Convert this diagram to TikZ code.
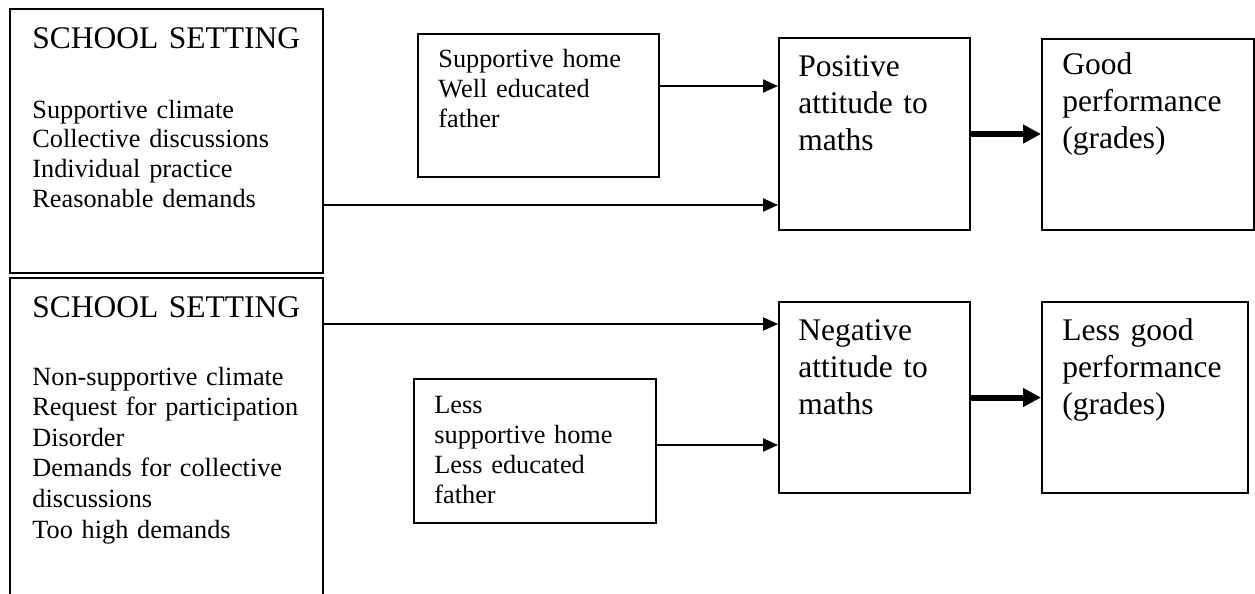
\documentclass[tikz,border=0pt]{standalone}
\usepackage{fontspec}
\setmainfont{Liberation Serif}
\usetikzlibrary{arrows.meta,positioning}

\begin{document}
\begin{tikzpicture}[x=0.5pt,y=-0.5pt,
    box/.style={draw, line width=1pt, inner sep=0pt, anchor=north west},
    small/.style={font=\fontsize{13.15pt}{15pt}\selectfont, text width=140pt, align=left, inner sep=0pt, anchor=base west},
    big/.style={font=\fontsize{15.75pt}{18.5pt}\selectfont, text width=150pt, align=left, inner sep=0pt, anchor=base west},
    link/.style={line width=1pt, -{Triangle[length=7.5pt,width=6.5pt]}},
    strong/.style={line width=3pt, -{Triangle[length=9pt,width=9pt]}}]
        \useasboundingbox (0,0) rectangle (1255,594);
        \clip (0,0) rectangle (1255,594);

        % school settings
        \draw node[box, minimum width=156.5pt, minimum height=132pt] (s1) at (9,8) {};
        \draw node[big] (s1-head) at (32,48) {SCHOOL SETTING};
        \draw node[small] (s1-body) at (32,118) {Supportive climate\\Collective discussions\\Individual practice\\Reasonable demands};
        \draw node[box, minimum width=156.5pt, minimum height=171.5pt] (s2) at (9,277) {};
        \draw node[big] (s2-head) at (32,317) {SCHOOL SETTING};
        \draw node[small, font=\fontsize{13.15pt}{15.3pt}\selectfont] (s2-body) at (32,385) {Non-supportive climate\\Request for participation\\Disorder\\Demands for collective\\discussions\\Too high demands};

        % home
        \draw node[box, minimum width=120.5pt, minimum height=71.5pt] (sup) at (417,33) {};
        \draw node[small] (sup-t) at (438,68) {Supportive home\\Well educated\\father};
        \draw node[box, minimum width=121pt, minimum height=72pt] (lsup) at (413,378) {};
        \draw node[small] (lsup-t) at (434,413) {Less\\supportive home\\Less educated\\father};

        % attitude and performance
        \draw node[box, minimum width=95.5pt, minimum height=96pt] (pos) at (778,37) {};
        \draw node[big] (pos-t) at (798,76) {Positive\\attitude to\\maths};
        \draw node[box, minimum width=106pt, minimum height=95.5pt] (good) at (1041,38) {};
        \draw node[big] (good-t) at (1062,75) {Good\\performance\\(grades)};
        \draw node[box, minimum width=95.5pt, minimum height=95.5pt] (neg) at (778,301) {};
        \draw node[big] (neg-t) at (798,340) {Negative\\attitude to\\maths};
        \draw node[box, minimum width=103pt, minimum height=95.5pt] (lgood) at (1041,301) {};
        \draw node[big] (lgood-t) at (1062,340) {Less good\\performance\\(grades)};

        \draw (sup.east |- 0,86) edge[link] (pos.west |- 0,86);
        \draw (s1.east |- 0,205) edge[link] (pos.west |- 0,205);
        \draw (s2.east |- 0,324) edge[link] (neg.west |- 0,324);
        \draw (lsup.east |- 0,445) edge[link] (neg.west |- 0,445);
        \draw (pos.east) edge[strong] (pos.east -| good.west);
        \draw (neg.east) edge[strong] (neg.east -| lgood.west);
      \end{tikzpicture}
\end{document}
